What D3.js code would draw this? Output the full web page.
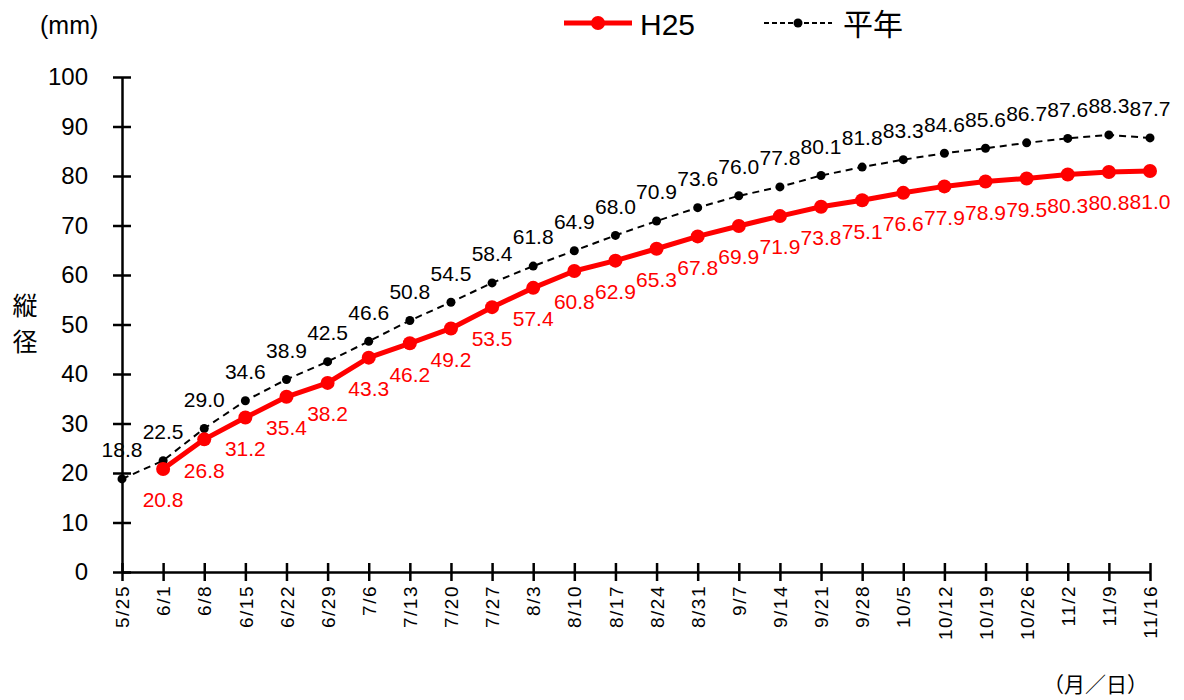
<!DOCTYPE html>
<html>
<head>
<meta charset="utf-8">
<script src="https://cdn.jsdelivr.net/npm/d3@7"></script>
<style>
  body { margin: 0; background: #fff; }
  svg { display: block; font-family: "Liberation Sans", Arial, sans-serif; }
</style>
</head>
<body>
<div id="chart"></div>
<script>
// Datos del gráfico
const fechas = ["5/25", "6/1", "6/8", "6/15", "6/22", "6/29", "7/6", "7/13", "7/20", "7/27",
  "8/3", "8/10", "8/17", "8/24", "8/31", "9/7", "9/14", "9/21", "9/28", "10/5",
  "10/12", "10/19", "10/26", "11/2", "11/9", "11/16"];
const heisei25 = [null, 20.8, 26.8, 31.2, 35.4, 38.2, 43.3, 46.2, 49.2, 53.5,
  57.4, 60.8, 62.9, 65.3, 67.8, 69.9, 71.9, 73.8, 75.1, 76.6,
  77.9, 78.9, 79.5, 80.3, 80.8, 81.0];
const heinen = [18.8, 22.5, 29.0, 34.6, 38.9, 42.5, 46.6, 50.8, 54.5, 58.4,
  61.8, 64.9, 68.0, 70.9, 73.6, 76.0, 77.8, 80.1, 81.8, 83.3,
  84.6, 85.6, 86.7, 87.6, 88.3, 87.7];
const yTicks = [0, 10, 20, 30, 40, 50, 60, 70, 80, 90, 100];

const width = 1184, height = 700;
const plotLeft = 122, plotRight = 1150, plotTop = 77, plotBottom = 572;

const svg = d3.select("#chart")
  .append("svg")
  .attr("width", width)
  .attr("height", height);

// Escalas
const x = d3.scalePoint().domain(fechas).range([plotLeft, plotRight]);
const y = d3.scaleLinear().domain([0, 100]).range([plotBottom, plotTop]);

// Eje Y
const yAxis = svg.append("g")
  .attr("transform", `translate(${plotLeft},0)`)
  .call(d3.axisLeft(y).tickValues(yTicks).tickSize(9).tickSizeOuter(0).tickPadding(25));
yAxis.select(".domain").attr("stroke", "#000").attr("stroke-width", 2.5);
yAxis.selectAll(".tick line").attr("x1", 9).attr("stroke-width", 2.5);
yAxis.selectAll(".tick text")
  .attr("font-size", 24)
  .attr("fill", "#000");

// Eje X
const xAxis = svg.append("g")
  .attr("transform", `translate(0,${plotBottom})`)
  .call(d3.axisBottom(x).tickSize(9).tickSizeOuter(0));
xAxis.select(".domain").attr("stroke", "#000").attr("stroke-width", 2.5);
xAxis.selectAll(".tick line").attr("y1", -9).attr("stroke-width", 2.5);
xAxis.selectAll(".tick text")
  .attr("transform", "rotate(-90)")
  .attr("x", -13)
  .attr("y", 0)
  .attr("dy", "0.35em")
  .attr("text-anchor", "end")
  .attr("font-size", 19)
  .attr("letter-spacing", 1.5)
  .attr("fill", "#000");

// Líneas
const line = d3.line()
  .x(d => x(d.f))
  .y(d => y(d.v));

const datosHeinen = fechas.map((f, i) => ({ f, v: heinen[i] }));
const datosH25 = fechas.map((f, i) => ({ f, v: heisei25[i] })).filter(d => d.v != null);

// Promedio (平年)
svg.append("path")
  .datum(datosHeinen)
  .attr("d", line)
  .attr("fill", "none")
  .attr("stroke", "#000")
  .attr("stroke-width", 2)
  .attr("stroke-dasharray", "7,5");

svg.append("g").selectAll("circle")
  .data(datosHeinen)
  .enter()
  .append("circle")
  .attr("cx", d => x(d.f))
  .attr("cy", d => y(d.v))
  .attr("r", 4.5)
  .attr("fill", "#000");

// H25
svg.append("path")
  .datum(datosH25)
  .attr("d", line)
  .attr("fill", "none")
  .attr("stroke", "#ff0000")
  .attr("stroke-width", 5)
  .attr("stroke-linejoin", "round");

svg.append("g").selectAll("circle")
  .data(datosH25)
  .enter()
  .append("circle")
  .attr("cx", d => x(d.f))
  .attr("cy", d => y(d.v))
  .attr("r", 7)
  .attr("fill", "#ff0000");

// Etiquetas de datos
svg.append("g").selectAll("text")
  .data(datosHeinen)
  .enter()
  .append("text")
  .attr("x", d => x(d.f))
  .attr("y", d => y(d.v) - 29)
  .attr("dy", "0.35em")
  .attr("text-anchor", "middle")
  .attr("font-size", 21)
  .attr("fill", "#000")
  .text(d => d.v.toFixed(1));

svg.append("g").selectAll("text")
  .data(datosH25)
  .enter()
  .append("text")
  .attr("x", d => x(d.f))
  .attr("y", d => y(d.v) + 31)
  .attr("dy", "0.35em")
  .attr("text-anchor", "middle")
  .attr("font-size", 21)
  .attr("fill", "#ff0000")
  .text(d => d.v.toFixed(1));

// Títulos de los ejes
svg.append("text")
  .attr("x", 40).attr("y", 34)
  .attr("font-size", 25)
  .text("(mm)");

svg.append("text")
  .attr("x", 25).attr("y", 315)
  .attr("text-anchor", "middle")
  .attr("font-family", "'Noto Sans CJK JP', sans-serif")
  .attr("font-size", 25)
  .text("縦");
svg.append("text")
  .attr("x", 25).attr("y", 351)
  .attr("text-anchor", "middle")
  .attr("font-family", "'Noto Sans CJK JP', sans-serif")
  .attr("font-size", 25)
  .text("径");

svg.append("text")
  .attr("x", 1148).attr("y", 692)
  .attr("text-anchor", "end")
  .attr("font-family", "'Noto Sans CJK JP', sans-serif")
  .attr("font-size", 21)
  .text("（月／日）");

// Leyenda
const legend = svg.append("g");
legend.append("line")
  .attr("x1", 564).attr("x2", 632).attr("y1", 23).attr("y2", 23)
  .attr("stroke", "#ff0000").attr("stroke-width", 5);
legend.append("circle")
  .attr("cx", 598).attr("cy", 23).attr("r", 7).attr("fill", "#ff0000");
legend.append("text")
  .attr("x", 640).attr("y", 35)
  .attr("font-size", 30)
  .text("H25");

legend.append("line")
  .attr("x1", 764).attr("x2", 832).attr("y1", 23).attr("y2", 23)
  .attr("stroke", "#000").attr("stroke-width", 2)
  .attr("stroke-dasharray", "5,3");
legend.append("circle")
  .attr("cx", 798).attr("cy", 23).attr("r", 4.5).attr("fill", "#000");
legend.append("text")
  .attr("x", 843).attr("y", 35)
  .attr("font-family", "'Noto Sans CJK JP', sans-serif")
  .attr("font-size", 30)
  .text("平年");
</script>
</body>
</html>
